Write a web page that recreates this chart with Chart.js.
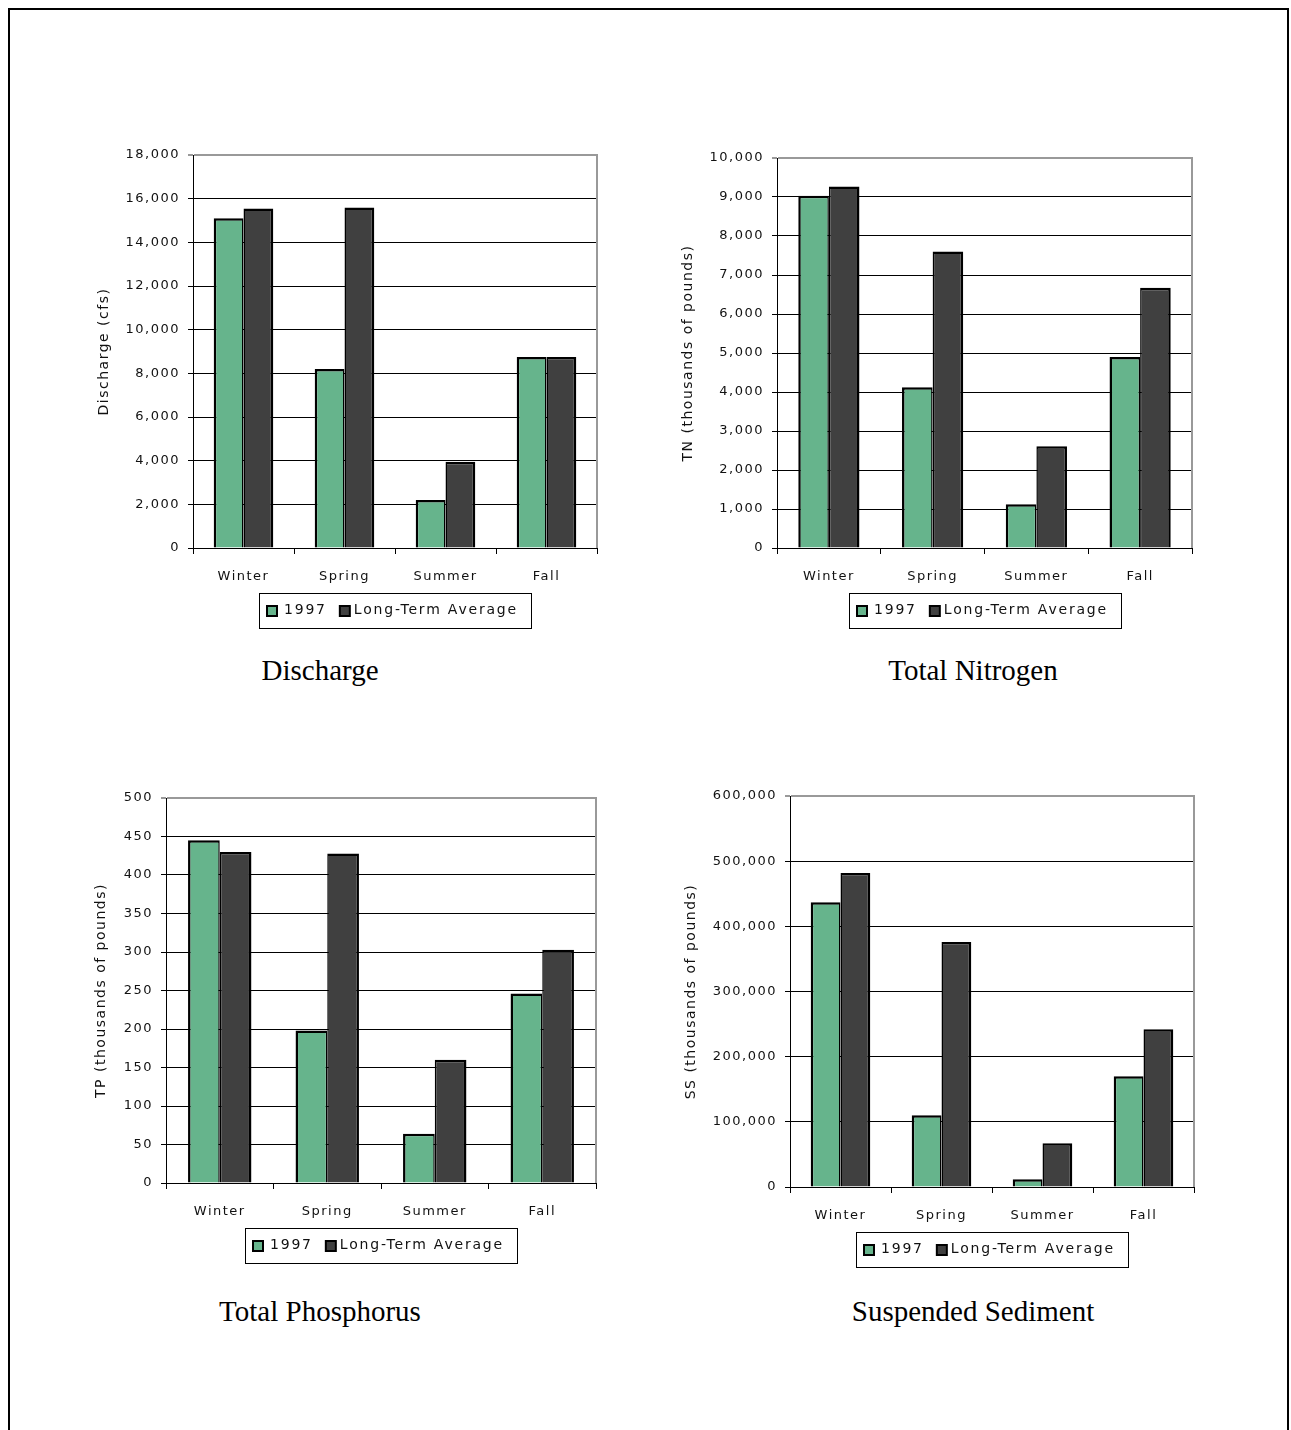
<!DOCTYPE html>
<html>
<head>
<meta charset="utf-8">
<title>Seasonal Discharge and Loads, 1997</title>
<script src="https://cdn.jsdelivr.net/npm/chart.js@4/dist/chart.umd.min.js"></script>
<style>
  body { margin: 0; background: #fff; }
  #page { position: relative; width: 1291px; height: 1430px; overflow: hidden; background: #fff; }
  #frame { position: absolute; left: 8px; top: 8px; width: 1277px; height: 1460px; border: 2px solid #000; border-bottom: none; }
  canvas { position: absolute; }
  .caption { position: absolute; width: 400px; text-align: center; font-family: "Liberation Serif", "Times New Roman", serif; font-size: 29px; line-height: 32px; color: #000; }
</style>
</head>
<body>
<div id="page">
  <div id="frame"></div>
  <canvas id="dischargeChart"></canvas>
  <canvas id="nitrogenChart"></canvas>
  <canvas id="phosphorusChart"></canvas>
  <canvas id="sedimentChart"></canvas>
  <div class="caption" style="left:120px; top:654px;">Discharge</div>
  <div class="caption" style="left:773px; top:654px;">Total Nitrogen</div>
  <div class="caption" style="left:120px; top:1295px;">Total Phosphorus</div>
  <div class="caption" style="left:773px; top:1295px;">Suspended Sediment</div>
</div>
<script>
const seasons = ['Winter', 'Spring', 'Summer', 'Fall'];
const seriesLabels = ['1997', 'Long-Term Average'];

const discharge1997 = [15100, 8200, 2200, 8750];
const dischargeAvg = [15550, 15600, 3950, 8750];
const dischargeTicks = [0, 2000, 4000, 6000, 8000, 10000, 12000, 14000, 16000, 18000];

const nitrogen1997 = [9030, 4120, 1120, 4900];
const nitrogenAvg = [9270, 7600, 2610, 6670];
const nitrogenTicks = [0, 1000, 2000, 3000, 4000, 5000, 6000, 7000, 8000, 9000, 10000];

const phosphorus1997 = [445, 198, 64, 246];
const phosphorusAvg = [430, 428, 160, 303];
const phosphorusTicks = [0, 50, 100, 150, 200, 250, 300, 350, 400, 450, 500];

const sediment1997 = [437000, 110000, 12000, 170000];
const sedimentAvg = [482000, 376000, 67000, 242000];
const sedimentTicks = [0, 100000, 200000, 300000, 400000, 500000, 600000];

const GREEN = '#66b48c';
const DARK = '#404040';
const TEXT = '#111';
const FONT = '"DejaVu Sans", Verdana, sans-serif';

// plot box on the page (left, top, right, bottom) and x of the rotated axis title
const panels = [
  { id: 'dischargeChart', axisTitle: 'Discharge (cfs)', ticks: dischargeTicks, series: [discharge1997, dischargeAvg], plot: [193, 155, 597, 548], titleX: 104 },
  { id: 'nitrogenChart', axisTitle: 'TN (thousands of pounds)', ticks: nitrogenTicks, series: [nitrogen1997, nitrogenAvg], plot: [777, 158, 1192, 548], titleX: 688 },
  { id: 'phosphorusChart', axisTitle: 'TP (thousands of pounds)', ticks: phosphorusTicks, series: [phosphorus1997, phosphorusAvg], plot: [166, 798, 596, 1183], titleX: 101 },
  { id: 'sedimentChart', axisTitle: 'SS (thousands of pounds)', ticks: sedimentTicks, series: [sediment1997, sedimentAvg], plot: [790, 796, 1194, 1187], titleX: 691 }
];

// wide letter spacing on all canvas text
const spacedText = {
  id: 'spacedText',
  beforeLayout(chart) { chart.ctx.letterSpacing = '1.5px'; },
  beforeDraw(chart) { chart.ctx.letterSpacing = '1.5px'; }
};

// grey right edge of the plot box
const plotFrame = {
  id: 'plotFrame',
  beforeDatasetsDraw(chart) {
    const { ctx, chartArea } = chart;
    ctx.save();
    ctx.strokeStyle = '#999';
    ctx.lineWidth = 2;
    ctx.beginPath();
    ctx.moveTo(chartArea.right, chartArea.top - 1);
    ctx.lineTo(chartArea.right, chartArea.bottom);
    ctx.stroke();
    ctx.restore();
  }
};

// boxed legend centred under the plot
const boxLegend = {
  id: 'boxLegend',
  afterDraw(chart) {
    const { ctx, chartArea } = chart;
    ctx.save();
    ctx.letterSpacing = '1.8px';
    ctx.font = '14px ' + FONT;
    const sq = 12;
    const items = chart.data.datasets.map(ds => ({
      text: ds.label,
      color: ds.backgroundColor,
      w: ctx.measureText(ds.label).width
    }));
    const width = 7 + sq + 6 + items[0].w + 12 + sq + 3 + items[1].w + 13;
    const height = 35;
    const x0 = Math.round((chartArea.left + chartArea.right) / 2 - width / 2);
    const y0 = Math.round(chartArea.bottom + 45);
    ctx.strokeStyle = '#000';
    ctx.lineWidth = 1;
    ctx.strokeRect(x0 + 0.5, y0 + 0.5, Math.round(width), height);

    const cy = y0 + height / 2;
    let x = x0 + 7;
    items.forEach((item, i) => {
      ctx.fillStyle = '#000';
      ctx.fillRect(x, Math.round(cy - sq / 2), sq, sq);
      ctx.fillStyle = item.color;
      ctx.fillRect(x + 2, Math.round(cy - sq / 2) + 2, sq - 4, sq - 4);
      x += sq + (i === 0 ? 6 : 3);
      ctx.fillStyle = TEXT;
      ctx.textBaseline = 'middle';
      ctx.textAlign = 'left';
      ctx.fillText(item.text, x, cy);
      x += item.w + 12;
    });
    ctx.restore();
  }
};

function makeChart(panel) {
  const [left, top, right, bottom] = panel.plot;
  const canvasLeft = panel.titleX - 10;
  const canvasTop = top - 20;
  const width = right + 25 - canvasLeft;
  const height = bottom + 100 - canvasTop;
  const canvas = document.getElementById(panel.id);
  canvas.style.left = canvasLeft + 'px';
  canvas.style.top = canvasTop + 'px';
  canvas.style.width = width + 'px';
  canvas.style.height = height + 'px';
  canvas.width = width;
  canvas.height = height;

  const ticks = panel.ticks;
  const yMax = ticks[ticks.length - 1];

  return new Chart(canvas, {
    type: 'bar',
    data: {
      labels: seasons,
      datasets: [
        {
          label: seriesLabels[0],
          data: panel.series[0],
          backgroundColor: GREEN,
          borderColor: '#000',
          borderWidth: { top: 2.5, left: 2.5, right: 1.5, bottom: 0 }
        },
        {
          label: seriesLabels[1],
          data: panel.series[1],
          backgroundColor: DARK,
          borderColor: '#000',
          borderWidth: { top: 2.5, left: 1.5, right: 2.5, bottom: 0 }
        }
      ]
    },
    options: {
      responsive: false,
      animation: false,
      devicePixelRatio: 1,
      layout: { padding: { left: 0, top: 20, right: 25, bottom: 0 } },
      datasets: { bar: { categoryPercentage: 0.59, barPercentage: 1 } },
      font: { family: FONT },
      plugins: {
        legend: { display: false },
        tooltip: { enabled: false }
      },
      scales: {
        x: {
          grid: { offset: true, drawOnChartArea: false, drawTicks: true, tickLength: 6, color: '#000' },
          border: { color: '#000', width: 1 },
          ticks: { color: TEXT, font: { family: FONT, size: 13 }, padding: 15, autoSkip: false, maxRotation: 0 },
          afterFit: scale => { scale.height = 100; }
        },
        y: {
          min: 0,
          max: yMax,
          grid: {
            color: c => (c.tick && c.tick.value === yMax ? '#999' : '#000'),
            lineWidth: c => (c.tick && c.tick.value === yMax ? 2 : 1),
            tickLength: 5
          },
          border: { color: '#000', width: 1 },
          ticks: {
            stepSize: ticks[1] - ticks[0],
            color: TEXT,
            font: { family: FONT, size: 13 },
            padding: 8,
            callback: v => v.toLocaleString('en-US')
          },
          title: {
            display: true,
            text: panel.axisTitle,
            color: TEXT,
            font: { family: FONT, size: 14 },
            padding: { top: 1.6, bottom: 0 }
          },
          afterFit: scale => { scale.width = left - canvasLeft; }
        }
      }
    },
    plugins: [spacedText, plotFrame, boxLegend]
  });
}

panels.forEach(makeChart);
</script>
</body>
</html>
